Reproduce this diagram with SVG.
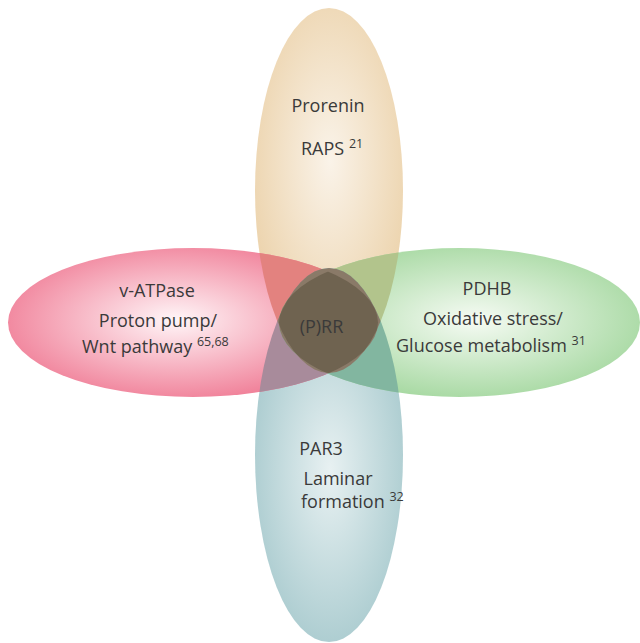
<svg xmlns="http://www.w3.org/2000/svg" xmlns:xlink="http://www.w3.org/1999/xlink" width="640" height="643" viewBox="0 0 640 643">
<style>
text{font-family:"Open Sans","Noto Sans","Liberation Sans",sans-serif;font-size:18px;fill:#3a3a3a;text-anchor:middle}
text.s{text-anchor:start}
.sup{font-size:12.5px}
</style>
<defs>
<radialGradient id="gT" cx="330" cy="160" r="190" gradientUnits="userSpaceOnUse" gradientTransform="translate(330 160) scale(0.45 1) translate(-330 -160)">
<stop offset="0" stop-color="#FAF3E9"/><stop offset="1" stop-color="#ECD3AC"/></radialGradient>
<radialGradient id="gB" cx="330" cy="470" r="190" gradientUnits="userSpaceOnUse" gradientTransform="translate(330 470) scale(0.45 1) translate(-330 -470)">
<stop offset="0" stop-color="#E8F1F2"/><stop offset="1" stop-color="#A8CACE"/></radialGradient>
<radialGradient id="gL" cx="175" cy="320" r="185" gradientUnits="userSpaceOnUse" gradientTransform="translate(175 320) scale(1 0.45) translate(-175 -320)">
<stop offset="0" stop-color="#FFF6F8"/><stop offset="1" stop-color="#F07E97"/></radialGradient>
<radialGradient id="gR" cx="475" cy="320" r="185" gradientUnits="userSpaceOnUse" gradientTransform="translate(475 320) scale(1 0.45) translate(-475 -320)">
<stop offset="0" stop-color="#F6FBF4"/><stop offset="1" stop-color="#A5D8A0"/></radialGradient>
<ellipse id="eT" cx="329" cy="190.5" rx="74" ry="182.5"/>
<ellipse id="eB" cx="329" cy="455" rx="74" ry="187"/>
<ellipse id="eL" cx="193" cy="322.5" rx="185" ry="74.5"/>
<ellipse id="eR" cx="459.5" cy="322.5" rx="180.5" ry="74.5"/>
<clipPath id="cT"><use xlink:href="#eT"/></clipPath>
<clipPath id="cB"><use xlink:href="#eB"/></clipPath>
<clipPath id="cL"><use xlink:href="#eL"/></clipPath>
<clipPath id="cR"><use xlink:href="#eR"/></clipPath>
</defs>
<g id="top"><use xlink:href="#eT" fill="url(#gT)"/></g>
<g id="bottom"><use xlink:href="#eB" fill="url(#gB)"/></g>
<g id="left"><use xlink:href="#eL" fill="url(#gL)"/></g>
<g id="right"><use xlink:href="#eR" fill="url(#gR)"/></g>
<g id="overlaps">
<use xlink:href="#eL" clip-path="url(#cT)" fill="#E3827F"/>
<use xlink:href="#eR" clip-path="url(#cT)" fill="#B2C48C"/>
<use xlink:href="#eL" clip-path="url(#cB)" fill="#A88B9B"/>
<use xlink:href="#eR" clip-path="url(#cB)" fill="#82B6A0"/>
<use xlink:href="#eL" clip-path="url(#cR)" fill="#8A7A68"/>
<use xlink:href="#eT" clip-path="url(#cB)" fill="#8A7A68"/>
<g clip-path="url(#cT)"><g clip-path="url(#cB)"><use xlink:href="#eL" clip-path="url(#cR)" fill="#6F6350"/></g></g>
</g>
<g id="center"><text x="321.5" y="333">(P)RR</text></g>
<g id="top-label"><text x="328" y="112">Prorenin</text><text class="s" x="301" y="155">RAPS <tspan class="sup" dy="-7">21</tspan></text></g>
<g id="left-label"><text x="157" y="297">v-ATPase</text><text x="158" y="327">Proton pump/</text><text class="s" x="82" y="353">Wnt pathway <tspan class="sup" dy="-7">65,68</tspan></text></g>
<g id="right-label"><text x="487" y="295">PDHB</text><text x="493" y="325">Oxidative stress/</text><text class="s" x="396" y="352">Glucose metabolism <tspan class="sup" dy="-7">31</tspan></text></g>
<g id="bottom-label"><text x="321" y="455">PAR3</text><text x="338" y="485">Laminar</text><text class="s" x="301" y="508">formation <tspan class="sup" dy="-7">32</tspan></text></g>
</svg>
